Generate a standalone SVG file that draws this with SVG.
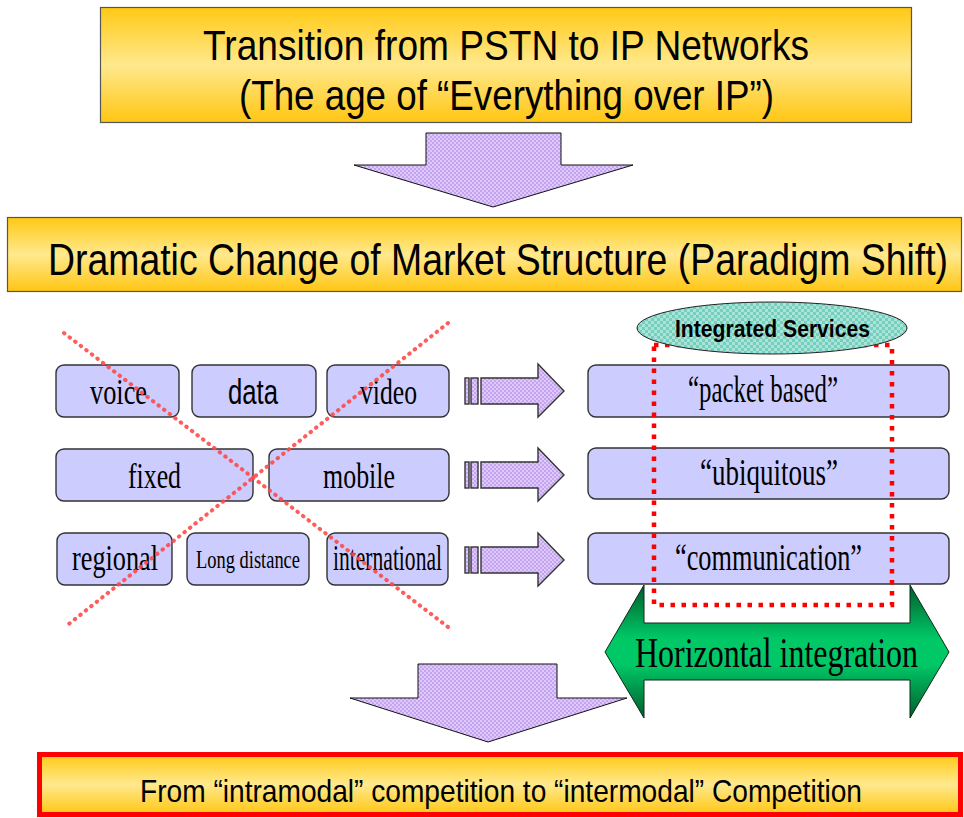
<svg xmlns="http://www.w3.org/2000/svg" xmlns:xlink="http://www.w3.org/1999/xlink" width="964" height="818" viewBox="0 0 964 818">
<defs>
<linearGradient id="gold" x1="0" y1="0" x2="0" y2="1">
<stop offset="0" stop-color="#FFC914"/>
<stop offset="0.5" stop-color="#FFE98E"/>
<stop offset="1" stop-color="#FFC612"/>
</linearGradient>
<linearGradient id="green" x1="0" y1="0" x2="0" y2="1">
<stop offset="0" stop-color="#005C2C"/>
<stop offset="0.4" stop-color="#00C866"/>
<stop offset="0.6" stop-color="#00C866"/>
<stop offset="1" stop-color="#005C2C"/>
</linearGradient>
<pattern id="chk" width="4" height="4" patternUnits="userSpaceOnUse">
<rect width="4" height="4" fill="#C6A3F0"/>
<rect width="2" height="2" fill="#DECAF9"/>
<rect x="2" y="2" width="2" height="2" fill="#DECAF9"/>
</pattern>
<pattern id="teal" width="6" height="6" patternUnits="userSpaceOnUse">
<rect width="6" height="6" fill="#74CFBE"/>
<rect width="3" height="3" fill="#A9E4D8"/>
<rect x="3" y="3" width="3" height="3" fill="#A9E4D8"/>
</pattern>
<g id="sarrow">
<rect x="465" y="378" width="4" height="26"/>
<rect x="471" y="378" width="7" height="26"/>
<polygon points="481,378 538,378 538,364 564,391 538,417 538,404 481,404"/>
</g>
<style>
.banner{fill:url(#gold);stroke:#555;stroke-width:1.2}
.gt{font-family:"Liberation Sans",Arial,sans-serif;fill:#000}
.box{fill:#CCCCFF;stroke:#333;stroke-width:1.4}
.st{font-family:"Liberation Serif","Times New Roman",serif;fill:#000;text-anchor:start}
.dn{fill:url(#chk);stroke:#111;stroke-width:1}
.sa{fill:url(#chk);stroke:#333;stroke-width:1.4}
.xline{stroke:#FF4A4A;stroke-width:4;stroke-dasharray:0.5 6.5;stroke-linecap:round;fill:none;opacity:0.9}
</style>
</defs>

<g id="title">
<rect class="banner" x="100.5" y="7.5" width="811" height="115"/>
<text class="gt" x="203" y="60" font-size="42" textLength="606" lengthAdjust="spacingAndGlyphs">Transition from PSTN to IP Networks</text>
<text class="gt" x="239" y="110" font-size="42" textLength="535" lengthAdjust="spacingAndGlyphs">(The age of “Everything over IP”)</text>
</g>

<g id="connectors">
<polygon class="dn" points="426,133 561,133 561,165 633,165 493,207 354,165 426,165"/>
<polygon class="dn" points="418,664 557,664 557,698 627,698 488,742 350,698 418,698"/>
<use xlink:href="#sarrow" class="sa"/>
<use xlink:href="#sarrow" class="sa" y="84"/>
<use xlink:href="#sarrow" class="sa" y="169"/>
</g>

<g id="paradigm">
<rect class="banner" x="7.5" y="217.5" width="954" height="74"/>
<text class="gt" x="48" y="275" font-size="44" textLength="900" lengthAdjust="spacingAndGlyphs">Dramatic Change of Market Structure (Paradigm Shift)</text>
</g>

<g id="voice"><rect class="box" x="56" y="365" width="123" height="52" rx="8"/><text class="st" x="90" y="404" font-size="36" textLength="57" lengthAdjust="spacingAndGlyphs">voice</text></g>
<g id="data"><rect class="box" x="192" y="365" width="124" height="52" rx="8"/><text class="gt" x="228" y="404" font-size="35" textLength="50" lengthAdjust="spacingAndGlyphs">data</text></g>
<g id="video"><rect class="box" x="327" y="365" width="122" height="52" rx="8"/><text class="st" x="360" y="404" font-size="36" textLength="57" lengthAdjust="spacingAndGlyphs">video</text></g>
<g id="fixed"><rect class="box" x="56" y="449" width="197" height="52" rx="8"/><text class="st" x="128" y="488" font-size="36" textLength="53" lengthAdjust="spacingAndGlyphs">fixed</text></g>
<g id="mobile"><rect class="box" x="269" y="449" width="180" height="52" rx="8"/><text class="st" x="323" y="488" font-size="36" textLength="72" lengthAdjust="spacingAndGlyphs">mobile</text></g>
<g id="regional"><rect class="box" x="57" y="533" width="115" height="52" rx="8"/><text class="st" x="72" y="570" font-size="36" textLength="86" lengthAdjust="spacingAndGlyphs">regional</text></g>
<g id="long-distance"><rect class="box" x="187" y="533" width="122" height="52" rx="8"/><text class="st" x="196" y="568" font-size="25" textLength="104" lengthAdjust="spacingAndGlyphs">Long distance</text></g>
<g id="international"><rect class="box" x="327" y="533" width="121" height="52" rx="8"/><text class="st" x="333" y="570" font-size="36" textLength="109" lengthAdjust="spacingAndGlyphs">international</text></g>

<g id="cross-out">
<line class="xline" x1="64" y1="333" x2="448" y2="627"/>
<line class="xline" x1="448" y1="323" x2="65" y2="627"/>
</g>

<g id="horizontal-integration">
<polygon points="605,652 644,585 644,623 910,623 910,585 949,652 910,718 910,680 644,680 644,718" fill="url(#green)" stroke="#0A2A14" stroke-width="1"/>
<text class="st" x="635" y="667" font-size="42" textLength="283" lengthAdjust="spacingAndGlyphs">Horizontal integration</text>
</g>

<g id="packet-based"><rect class="box" x="588" y="365" width="361" height="52" rx="8"/><text class="st" x="688" y="402" font-size="38" textLength="150" lengthAdjust="spacingAndGlyphs">“packet based”</text></g>
<g id="ubiquitous"><rect class="box" x="588" y="448" width="361" height="51" rx="8"/><text class="st" x="700" y="485" font-size="38" textLength="138" lengthAdjust="spacingAndGlyphs">“ubiquitous”</text></g>
<g id="communication"><rect class="box" x="588" y="533" width="361" height="51" rx="8"/><text class="st" x="675" y="570" font-size="38" textLength="187" lengthAdjust="spacingAndGlyphs">“communication”</text></g>

<g id="integrated-frame">
<rect x="654" y="345" width="238" height="260" fill="none" stroke="#FF0000" stroke-width="4.5" stroke-dasharray="4.5 6.5"/>
</g>

<g id="integrated-services">
<ellipse cx="772" cy="328" rx="135" ry="26" fill="url(#teal)" stroke="#222" stroke-width="1"/>
<text class="gt" x="675" y="337" font-size="23" font-weight="bold" textLength="195" lengthAdjust="spacingAndGlyphs">Integrated Services</text>
</g>

<g id="competition">
<rect x="39.5" y="754.5" width="921" height="60" fill="url(#gold)" stroke="#FF0000" stroke-width="5"/>
<text class="gt" x="140" y="802" font-size="32" textLength="722" lengthAdjust="spacingAndGlyphs">From “intramodal” competition to “intermodal” Competition</text>
</g>
</svg>
